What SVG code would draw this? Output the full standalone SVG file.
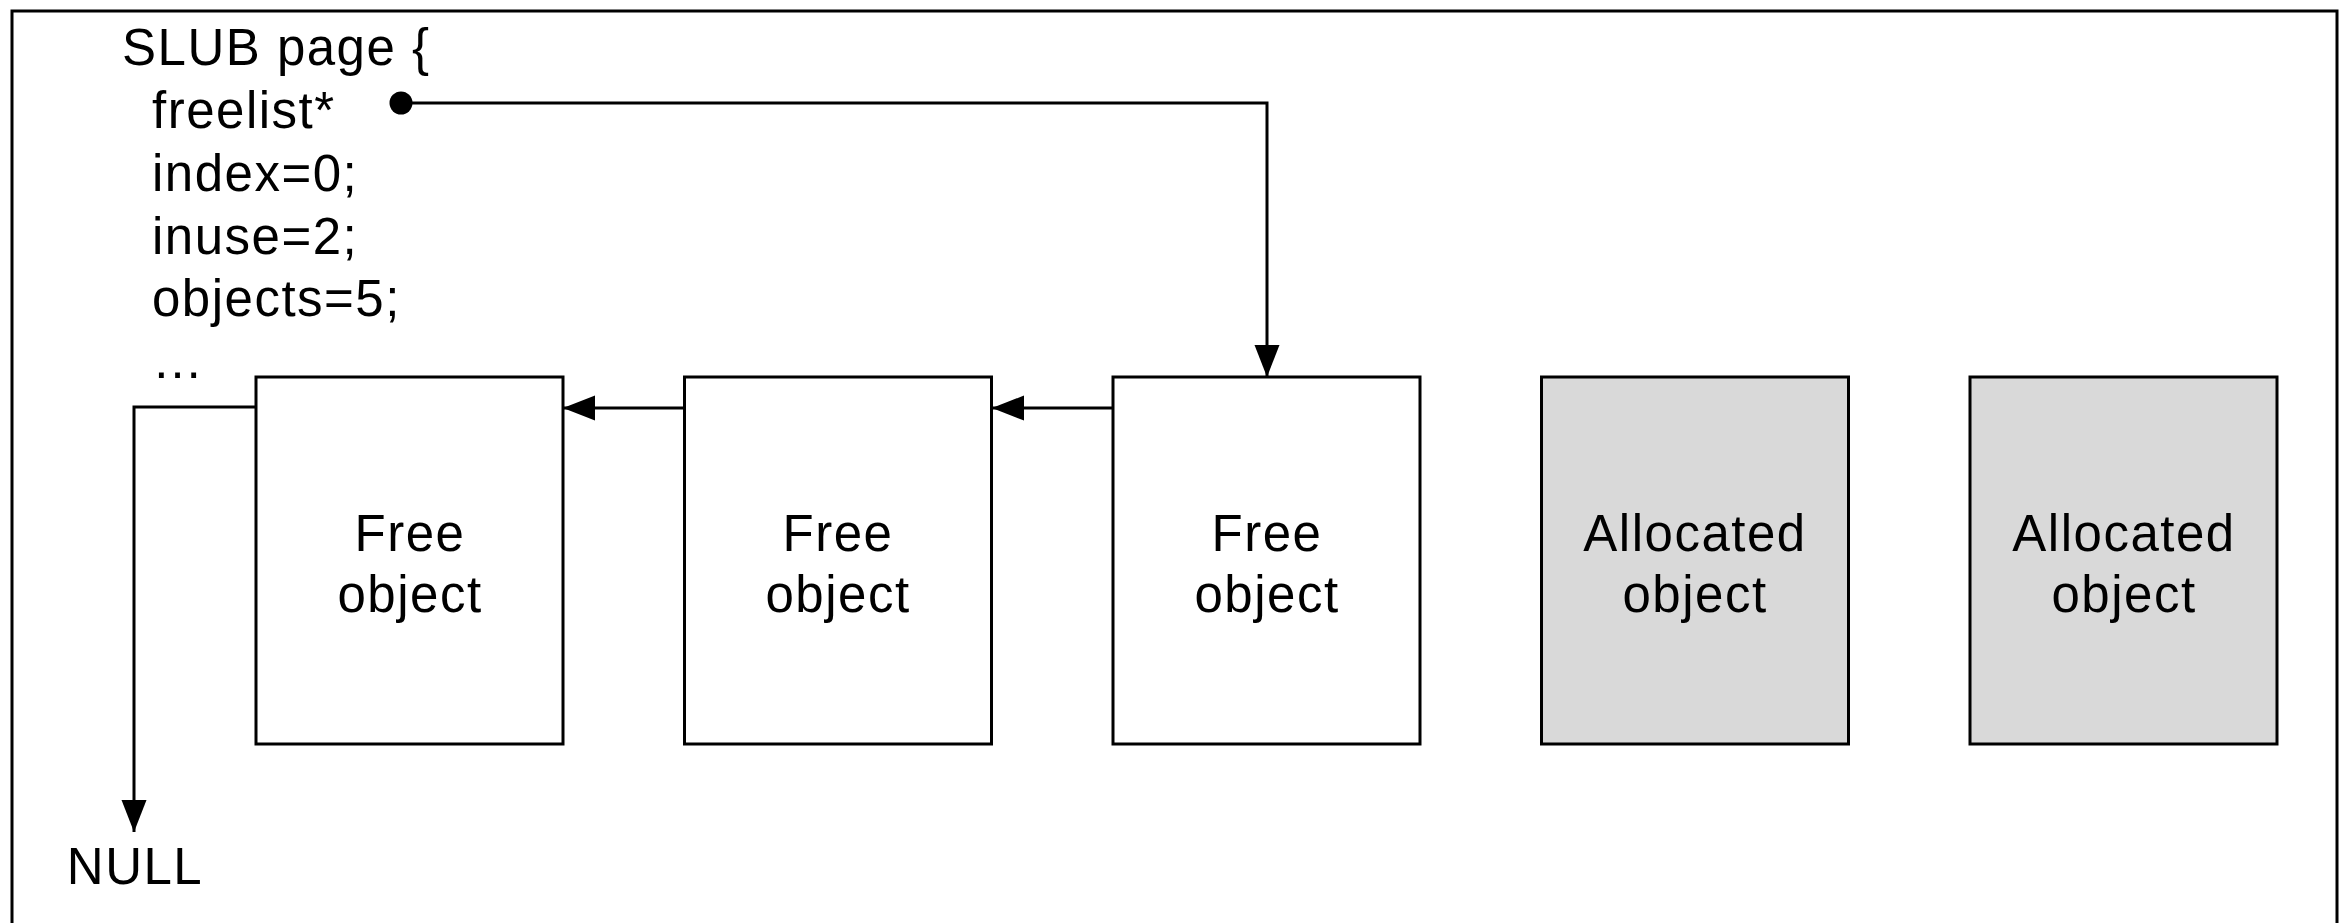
<svg xmlns="http://www.w3.org/2000/svg" width="2347" height="923" viewBox="0 0 2347 923">
<defs>
<style>
text{font-family:"Liberation Sans",Arial,sans-serif;font-size:51px;fill:#000;letter-spacing:1.5px}
.box{stroke:#000;stroke-width:3;fill:#fff}
.alloc{fill:#d9d9d9}
.conn{stroke:#000;stroke-width:3;fill:none}
.lbl{text-anchor:middle}
</style>
<marker id="arr" markerUnits="userSpaceOnUse" markerWidth="34" markerHeight="26" refX="32" refY="12.5" orient="auto" viewBox="0 0 34 26">
<path d="M0,0 L32,12.5 L0,25 z" fill="#000"/>
</marker>
</defs>
<rect width="2347" height="923" fill="#fff"/>
<g id="frame">
<rect x="12" y="11" width="2325" height="960" fill="none" stroke="#000" stroke-width="3"/>
</g>
<g id="slub-page">
<text x="122" y="65">SLUB page {</text>
<text x="152" y="128">freelist*</text>
<text x="152" y="191">index=0;</text>
<text x="152" y="254">inuse=2;</text>
<text x="152" y="316">objects=5;</text>
<text x="152" y="378">…</text>
</g>
<g id="free1">
<rect class="box" x="256" y="377" width="307" height="367"/>
<text class="lbl" x="410" y="551">Free</text>
<text class="lbl" x="410" y="612">object</text>
</g>
<g id="free2">
<rect class="box" x="684.5" y="377" width="307" height="367"/>
<text class="lbl" x="838" y="551">Free</text>
<text class="lbl" x="838" y="612">object</text>
</g>
<g id="free3">
<rect class="box" x="1113" y="377" width="307" height="367"/>
<text class="lbl" x="1267" y="551">Free</text>
<text class="lbl" x="1267" y="612">object</text>
</g>
<g id="alloc1">
<rect class="box alloc" x="1541.5" y="377" width="307" height="367"/>
<text class="lbl" x="1695" y="551">Allocated</text>
<text class="lbl" x="1695" y="612">object</text>
</g>
<g id="alloc2">
<rect class="box alloc" x="1970" y="377" width="307" height="367"/>
<text class="lbl" x="2124" y="551">Allocated</text>
<text class="lbl" x="2124" y="612">object</text>
</g>
<g id="null">
<text class="lbl" x="135" y="884">NULL</text>
</g>
<g id="connectors">
<circle cx="401" cy="103" r="11.5" fill="#000"/>
<path class="conn" d="M401,103 H1267 V377" marker-end="url(#arr)"/>
<path class="conn" d="M1113,408 H992" marker-end="url(#arr)"/>
<path class="conn" d="M684.5,408 H563" marker-end="url(#arr)"/>
<path class="conn" d="M256,407 H134 V832" marker-end="url(#arr)"/>
</g>
</svg>
